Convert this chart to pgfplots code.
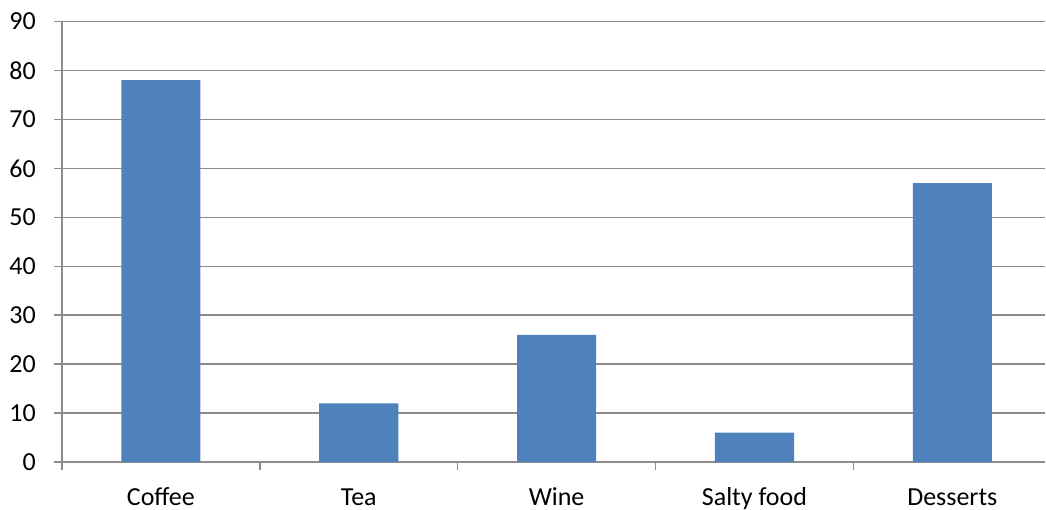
\documentclass[border=0pt]{standalone}
\usepackage{fontspec}
\setmainfont{Carlito}
\usepackage{pgfplots}
\pgfplotsset{compat=1.18}
\usetikzlibrary{calc}
\definecolor{barblue}{HTML}{4F81BD}
\definecolor{gridgray}{HTML}{8C8C8C}
\begin{document}
\begin{tikzpicture}
\begin{axis}[
  scale only axis,
  width=738pt, height=330.75pt,
  xmin=-0.5, xmax=4.4697, ymin=0, ymax=90,
  ytick={0,10,...,90},
  ymajorgrids,
  grid style={gridgray, line width=1.1pt},
  axis x line*=bottom, axis y line*=left,
  axis line style={gridgray, line width=1.1pt, -},
  tick style={gridgray, line width=1.1pt},
  tick align=outside, major tick length=6pt,
  xtick={-0.5,0.5,1.5,2.5,3.5}, xticklabels={},
  extra x ticks={0,1,2,3,4},
  extra x tick labels={Coffee,Tea,Wine,Salty food,Desserts},
  extra x tick style={major tick length=0pt, grid=none,
    tick label style={anchor=base, inner sep=0pt, yshift=-32.2pt}},
  tick label style={font=\fontsize{19.5}{23}\selectfont, text=black},
  yticklabel style={inner sep=0pt, xshift=-13.5pt},
  /pgf/number format/assume math mode=true,
  ybar, bar width=0.4,
]
\addplot[fill=barblue, draw=none] coordinates {(0,78) (1,12) (2,26) (3,6) (4,57)};
\coordinate (sw) at (rel axis cs:0,0);
\coordinate (ne) at (rel axis cs:1,1);
\end{axis}
\path ($(sw)+(-46.5pt,-35.6pt)$) rectangle ($(ne)+(0pt,16.1pt)$);
\end{tikzpicture}
\end{document}
